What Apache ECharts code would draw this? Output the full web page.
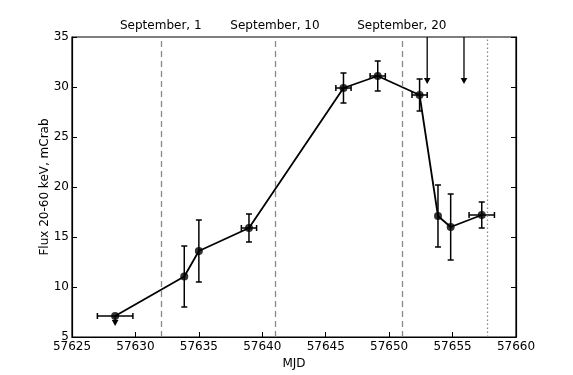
<!DOCTYPE html>
<html>
<head>
<meta charset="utf-8">
<script src="https://cdn.jsdelivr.net/npm/echarts@6/dist/echarts.min.js"></script>
<style>
  html, body { margin: 0; padding: 0; background: #fff; }
  #chart { width: 573px; height: 375px; }
</style>
</head>
<body>
<div id="chart"></div>
<script>
// light curve points (MJD, flux in mCrab) with errors
const mjd = [57628.4, 57633.85, 57635.0, 57638.95, 57646.4, 57649.1, 57652.4, 57653.85, 57654.85, 57657.3]
const flux = [7.1, 11.05, 13.6, 15.9, 29.9, 31.1, 29.2, 17.1, 16.0, 17.2]
const mjdErr = [1.4, 0, 0, 0.6, 0.6, 0.6, 0.6, 0, 0, 1.0]
const fluxErr = [0, 3.05, 3.1, 1.4, 1.5, 1.5, 1.6, 3.1, 3.3, 1.3]

// upper limits drawn as arrows: start / end flux
const arrowMjd = [57628.4, 57653.0, 57655.9]
const arrowFrom = [7.1, 35, 35]
const arrowTo = [6.1, 30.3, 30.3]

// calendar markers
const dateMjd = [57632, 57641, 57651]
const dateLabels = ['September, 1', 'September, 10', 'September, 20']
const dottedMjd = 57657.7

const chart = echarts.init(document.getElementById('chart'))
const font = 'DejaVu Sans'

const errData = mjd.map((x, i) => [x, flux[i], mjdErr[i], fluxErr[i]])
const arrowData = arrowMjd.map((x, i) => [x, arrowFrom[i], arrowTo[i]])

function renderErr(params, api) {
  const x = api.value(0), y = api.value(1), ex = api.value(2), ey = api.value(3)
  const style = { stroke: '#000', lineWidth: 1.5 }
  const kids = []
  const cap = 3
  if (ey > 0) {
    const t = api.coord([x, y + ey]), b = api.coord([x, y - ey])
    kids.push({ type: 'line', shape: { x1: t[0], y1: t[1], x2: b[0], y2: b[1] }, style })
    kids.push({ type: 'line', shape: { x1: t[0] - cap, y1: t[1], x2: t[0] + cap, y2: t[1] }, style })
    kids.push({ type: 'line', shape: { x1: b[0] - cap, y1: b[1], x2: b[0] + cap, y2: b[1] }, style })
  }
  if (ex > 0) {
    const l = api.coord([x - ex, y]), r = api.coord([x + ex, y])
    kids.push({ type: 'line', shape: { x1: l[0], y1: l[1], x2: r[0], y2: r[1] }, style })
    kids.push({ type: 'line', shape: { x1: l[0], y1: l[1] - cap, x2: l[0], y2: l[1] + cap }, style })
    kids.push({ type: 'line', shape: { x1: r[0], y1: r[1] - cap, x2: r[0], y2: r[1] + cap }, style })
  }
  return { type: 'group', children: kids }
}

function renderArrow(params, api) {
  const a = api.coord([api.value(0), api.value(1)])
  const b = api.coord([api.value(0), api.value(2)])
  const h = Math.min(6, Math.abs(b[1] - a[1]) * 0.6)
  const w = h * 0.55
  return {
    type: 'group',
    children: [
      { type: 'line', shape: { x1: a[0], y1: a[1], x2: b[0], y2: b[1] - h }, style: { stroke: '#000', lineWidth: 1.3 } },
      { type: 'polygon', shape: { points: [[b[0] - w, b[1] - h], [b[0] + w, b[1] - h], [b[0], b[1]]] }, style: { fill: '#000' } }
    ]
  }
}

const markData = dateMjd.map((x, i) => ({ xAxis: x, name: dateLabels[i] }))
markData.push({
  xAxis: dottedMjd,
  label: { show: false },
  lineStyle: { type: [1.5, 2.5], color: '#888', width: 1.3 }
})

const option = {
  animation: false,
  backgroundColor: '#fff',
  textStyle: { fontFamily: font },
  grid: {
    left: 72, right: 57, top: 37, bottom: 38,
    outerBoundsMode: 'none',
    show: true, borderColor: '#000', borderWidth: 1.2
  },
  xAxis: [{
    type: 'value', min: 57625, max: 57660, interval: 5,
    name: 'MJD', nameLocation: 'middle', nameGap: 21, nameMoveOverlap: false,
    nameTextStyle: { fontSize: 12, color: '#000', fontFamily: font },
    axisLine: { lineStyle: { color: '#000', width: 1.2 } },
    axisTick: { inside: true, length: 5, lineStyle: { color: '#000' } },
    axisLabel: { fontSize: 12, color: '#000', fontFamily: font, margin: 4, formatter: v => String(v) },
    splitLine: { show: false }
  }],
  yAxis: [{
    type: 'value', min: 5, max: 35, interval: 5,
    name: 'Flux 20-60 keV, mCrab', nameLocation: 'middle', nameGap: 21, nameMoveOverlap: false,
    nameTextStyle: { fontSize: 12, color: '#000', fontFamily: font },
    axisLine: { lineStyle: { color: '#000', width: 1.2 } },
    axisTick: { inside: true, length: 5, lineStyle: { color: '#000' } },
    axisLabel: { fontSize: 12, color: '#000', fontFamily: font, margin: 3 },
    splitLine: { show: false }
  }, {
    type: 'value', min: 5, max: 35, interval: 5, position: 'right',
    axisLine: { show: true, lineStyle: { color: '#000', width: 1.2 } },
    axisTick: { inside: true, length: 5, lineStyle: { color: '#000' } },
    axisLabel: { show: false },
    splitLine: { show: false }
  }],
  series: [
    {
      type: 'line',
      data: mjd.map((x, i) => [x, flux[i]]),
      showSymbol: false,
      lineStyle: { color: '#000', width: 1.8 },
      z: 3,
      markLine: {
        silent: true,
        symbol: ['none', 'none'],
        lineStyle: { type: [6, 4], color: '#888', width: 1.3 },
        label: { show: true, position: 'end', formatter: '{b}', color: '#000', fontSize: 12, fontFamily: font, distance: 5 },
        data: markData
      }
    },
    {
      type: 'custom',
      data: errData,
      renderItem: renderErr,
      encode: { x: 0, y: 1 },
      z: 4
    },
    {
      type: 'custom',
      data: arrowData,
      renderItem: renderArrow,
      encode: { x: 0, y: [1, 2] },
      z: 4
    },
    {
      type: 'scatter',
      data: mjd.map((x, i) => [x, flux[i]]),
      symbol: 'circle',
      symbolSize: 8,
      itemStyle: { color: '#000' },
      z: 5
    }
  ]
}

chart.setOption(option)
</script>
</body>
</html>
